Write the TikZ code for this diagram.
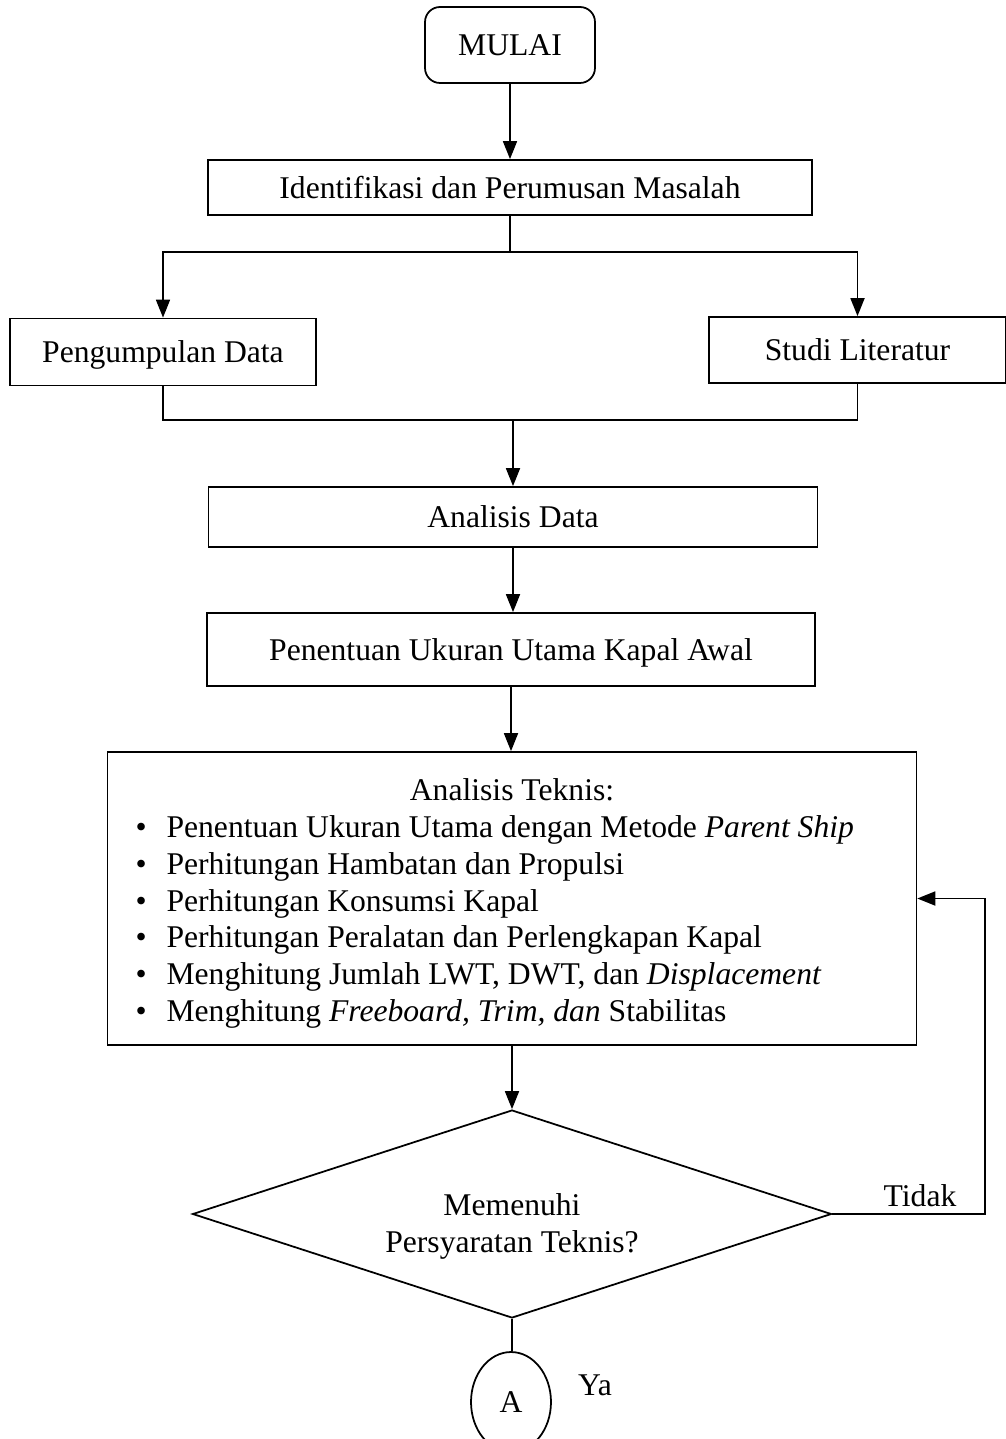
\documentclass[tikz,border=0pt]{standalone}
\usepackage{fontspec}
\setmainfont{Liberation Serif}
\usetikzlibrary{arrows.meta,shapes.geometric}
\newcommand{\butir}{\hspace*{0.56cm}\makebox[0.62cm][l]{\textbullet}}
\begin{document}
\begin{tikzpicture}[x=0.02cm,y=-0.02cm,line width=1pt,
  font=\fontsize{18}{21}\selectfont,
  kotak/.style={draw,rectangle,inner sep=0pt},
  panah/.style={-{Triangle[length=0.36cm,width=0.28cm]}}]
\useasboundingbox (0,0) rectangle (1006,1439);
% kotak proses
\node[kotak,rounded corners=0.3cm,minimum width=3.4cm,minimum height=1.52cm] (mulai) at (510,45) {MULAI};
\node[kotak,minimum width=12.08cm,minimum height=1.1cm] (ident) at (510,187.5) {Identifikasi dan Perumusan Masalah};
\node[kotak,text depth=0pt,minimum width=6.12cm,minimum height=1.34cm] (kumpul) at (163,352) {Pengumpulan Data};
\node[kotak,minimum width=5.94cm,minimum height=1.32cm] (studi) at (857.5,350) {Studi Literatur};
\node[kotak,minimum width=12.18cm,minimum height=1.2cm] (analisis) at (513,517) {Analisis Data};
\node[kotak,text depth=0pt,minimum width=12.16cm,minimum height=1.46cm] (awal) at (511,649.5) {Penentuan Ukuran Utama Kapal Awal};
\node[kotak,minimum width=16.18cm,minimum height=5.86cm] (teknis) at (512,898.5)
{\begin{minipage}{16.18cm}\vspace*{0.2cm}\centering Analisis Teknis:\par\raggedright
\butir Penentuan Ukuran Utama dengan Metode \textit{Parent Ship}\par
\butir Perhitungan Hambatan dan Propulsi\par
\butir Perhitungan Konsumsi Kapal\par
\butir Perhitungan Peralatan dan Perlengkapan Kapal\par
\butir Menghitung Jumlah LWT, DWT, dan \textit{Displacement}\par
\butir Menghitung \textit{Freeboard, Trim, dan} Stabilitas
\end{minipage}};
\node[draw,diamond,aspect=3.07,inner sep=0pt,minimum width=12.78cm,minimum height=4.16cm,align=center] (syarat) at (512,1214) {\rule{0pt}{0.95cm}Memenuhi\\Persyaratan Teknis?};
\node[draw,ellipse,inner sep=0pt,minimum width=1.6cm,minimum height=2cm] (A) at (511,1402) {A};
\node (tidak) at (920,1196) {Tidak};
\node (ya) at (595,1385) {Ya};
% penghubung
\draw[panah] (mulai) -- (ident);
\draw (ident.south) -- ++(0,36) coordinate (pisah);
\draw[panah] (pisah) -| (kumpul.north);
\draw[panah] (pisah) -| (studi.north);
\coordinate (gabung) at (513,420);
\draw (kumpul.south) |- (gabung) -| (studi.south);
\draw[panah] (gabung) -- (gabung |- analisis.north);
\draw[panah] (analisis.south) -- (analisis.south |- awal.north);
\draw[panah] (awal) -- (awal |- teknis.north);
\draw[panah] (teknis) -- (syarat);
\draw (syarat) -- (syarat |- A.north);
\coordinate (balik) at (985,898.5);
\draw[panah] (syarat.east) -| (balik) -- (teknis.east);
\end{tikzpicture}
\end{document}
